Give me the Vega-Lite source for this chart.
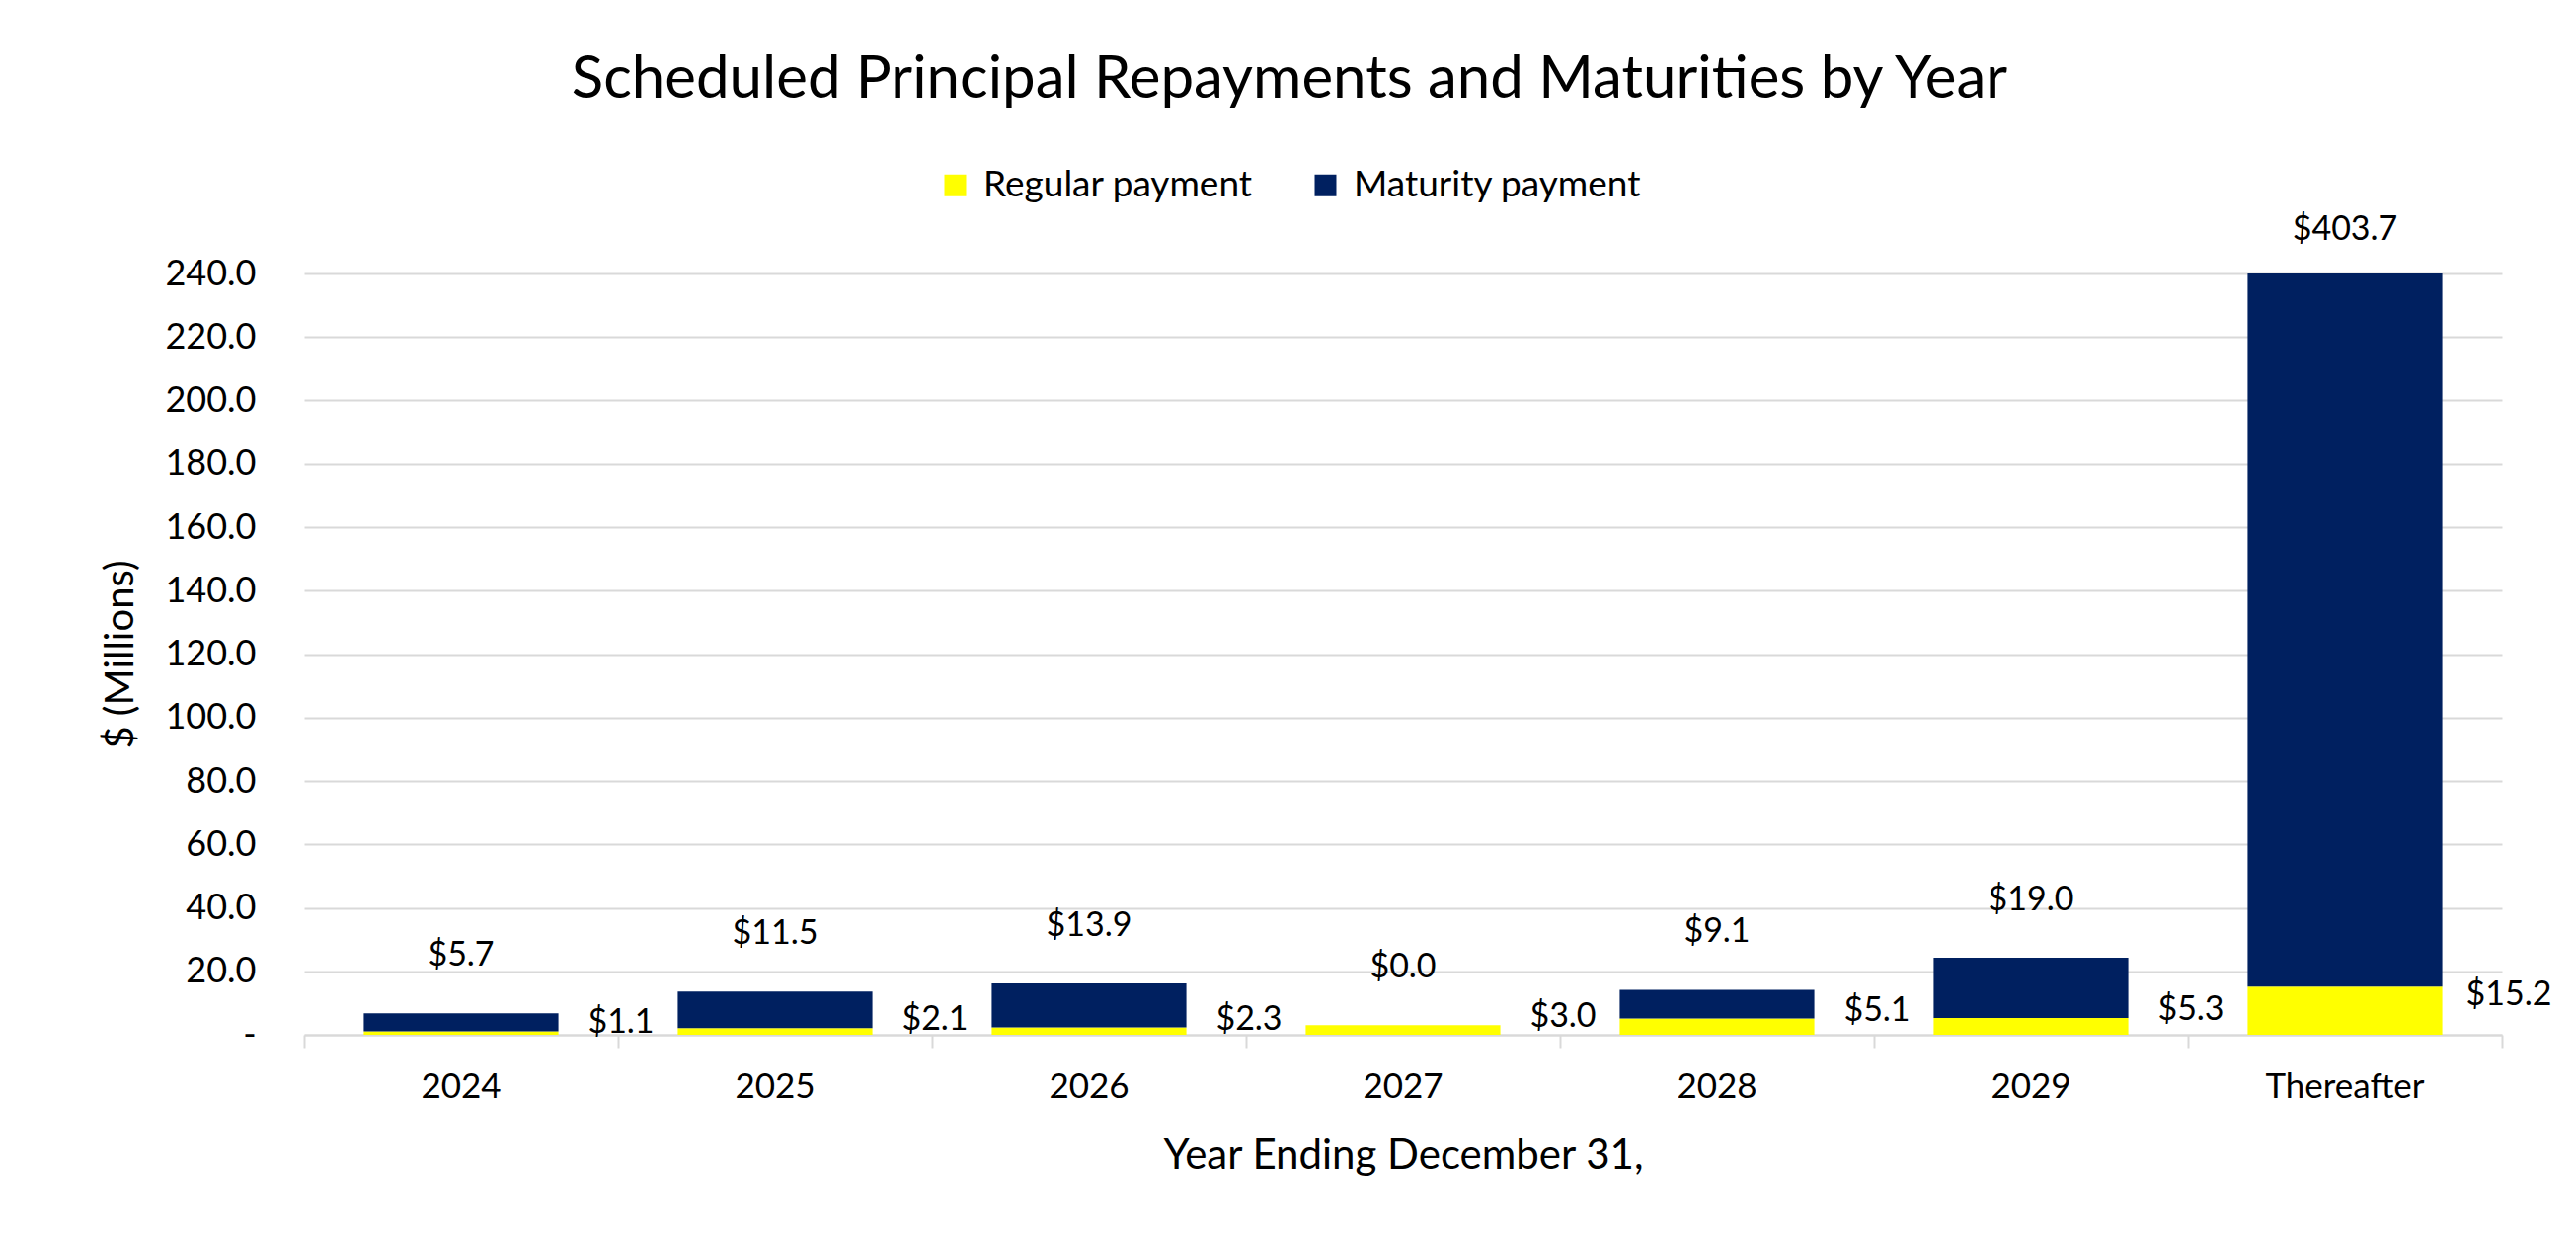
{
  "$schema": "https://vega.github.io/schema/vega-lite/v6.json",
  "width": 2226,
  "height": 771,
  "autosize": {"type": "none"},
  "padding": {"left": 308, "top": 277, "right": 75, "bottom": 213},
  "background": "white",
  "title": {
    "text": "Scheduled Principal Repayments and Maturities by Year",
    "fontSize": 60,
    "fontWeight": "normal",
    "color": "#000000",
    "anchor": "middle",
    "frame": "group",
    "dx": -115,
    "baseline": "alphabetic",
    "offset": 10
  },
  "data": {
    "values": [
      {"year": "2024", "type": "Regular payment", "value": 1.1},
      {"year": "2024", "type": "Maturity payment", "value": 5.7},
      {"year": "2025", "type": "Regular payment", "value": 2.1},
      {"year": "2025", "type": "Maturity payment", "value": 11.5},
      {"year": "2026", "type": "Regular payment", "value": 2.3},
      {"year": "2026", "type": "Maturity payment", "value": 13.9},
      {"year": "2027", "type": "Regular payment", "value": 3.0},
      {"year": "2027", "type": "Maturity payment", "value": 0.0},
      {"year": "2028", "type": "Regular payment", "value": 5.1},
      {"year": "2028", "type": "Maturity payment", "value": 9.1},
      {"year": "2029", "type": "Regular payment", "value": 5.3},
      {"year": "2029", "type": "Maturity payment", "value": 19.0},
      {"year": "Thereafter", "type": "Regular payment", "value": 15.2},
      {"year": "Thereafter", "type": "Maturity payment", "value": 403.7}
    ]
  },
  "transform": [
    {"stack": "value", "groupby": ["year"], "sort": [{"field": "type", "order": "descending"}], "as": ["v0", "v1"]}
  ],
  "encoding": {
    "x": {
      "field": "year",
      "type": "nominal",
      "sort": ["2024", "2025", "2026", "2027", "2028", "2029", "Thereafter"],
      "scale": {"paddingInner": 0, "paddingOuter": 0},
      "axis": {
        "title": "Year Ending December 31,",
        "labelAngle": 0,
        "labelFontSize": 35,
        "labelColor": "#000000",
        "labelPadding": 22,
        "titleFontSize": 42,
        "titleFontWeight": "normal",
        "titleColor": "#000000",
        "titlePadding": 32,
        "domainColor": "#d9d9d9",
        "domainWidth": 2,
        "ticks": true,
        "tickColor": "#d9d9d9",
        "tickWidth": 2,
        "tickSize": 13,
        "bandPosition": 1,
        "tickExtra": true,
        "grid": false
      }
    },
    "y": {
      "field": "v1",
      "type": "quantitative",
      "scale": {"domain": [0, 240], "nice": false, "clamp": true},
      "axis": {
        "title": "$ (Millions)",
        "values": [0, 20, 40, 60, 80, 100, 120, 140, 160, 180, 200, 220, 240],
        "labelExpr": "datum.value === 0 ? '-\u00a0\u00a0' : format(datum.value, '.1f')",
        "labelFontSize": 36,
        "labelColor": "#000000",
        "labelPadding": 49,
        "ticks": false,
        "domain": false,
        "grid": true,
        "gridColor": "#d9d9d9",
        "gridWidth": 2,
        "titleFontSize": 40,
        "titleFontWeight": "normal",
        "titleColor": "#000000",
        "titlePadding": 24
      }
    }
  },
  "layer": [
    {
      "mark": {"type": "bar", "width": {"band": 0.62}},
      "encoding": {
        "y2": {"field": "v0"},
        "color": {
          "field": "type",
          "type": "nominal",
          "scale": {"domain": ["Regular payment", "Maturity payment"], "range": ["#FFFF00", "#002060"]},
          "legend": {
            "title": null,
            "orient": "none",
            "direction": "horizontal",
            "legendX": 641,
            "legendY": -108,
            "symbolType": "square",
            "symbolSize": 484,
            "symbolStrokeWidth": 0,
            "labelFontSize": 37,
            "labelColor": "#000000",
            "labelOffset": 10,
            "labelLimit": 0,
            "columnPadding": 55
          }
        }
      }
    },
    {
      "transform": [{"filter": "datum.type === 'Maturity payment' && datum.year !== 'Thereafter'"}],
      "mark": {"type": "text", "fontSize": 34, "color": "#000000", "baseline": "alphabetic", "dy": -48},
      "encoding": {"text": {"field": "value", "type": "quantitative", "format": "$.1f"}}
    },
    {
      "transform": [{"filter": "datum.type === 'Maturity payment' && datum.year === 'Thereafter'"}],
      "mark": {"type": "text", "fontSize": 34, "color": "#000000", "baseline": "alphabetic", "dy": -34},
      "encoding": {"text": {"field": "value", "type": "quantitative", "format": "$.1f"}}
    },
    {
      "transform": [{"filter": "datum.type === 'Regular payment' && datum.year !== 'Thereafter'"}],
      "mark": {"type": "text", "fontSize": 34, "color": "#000000", "baseline": "alphabetic", "dx": 162, "dy": 2},
      "encoding": {"text": {"field": "value", "type": "quantitative", "format": "$.1f"}}
    },
    {
      "transform": [{"filter": "datum.type === 'Regular payment' && datum.year === 'Thereafter'"}],
      "mark": {"type": "text", "fontSize": 34, "color": "#000000", "baseline": "alphabetic", "dx": 166, "dy": 19},
      "encoding": {"text": {"field": "value", "type": "quantitative", "format": "$.1f"}}
    }
  ],
  "config": {
    "font": "Lato",
    "view": {"stroke": null}
  }
}
